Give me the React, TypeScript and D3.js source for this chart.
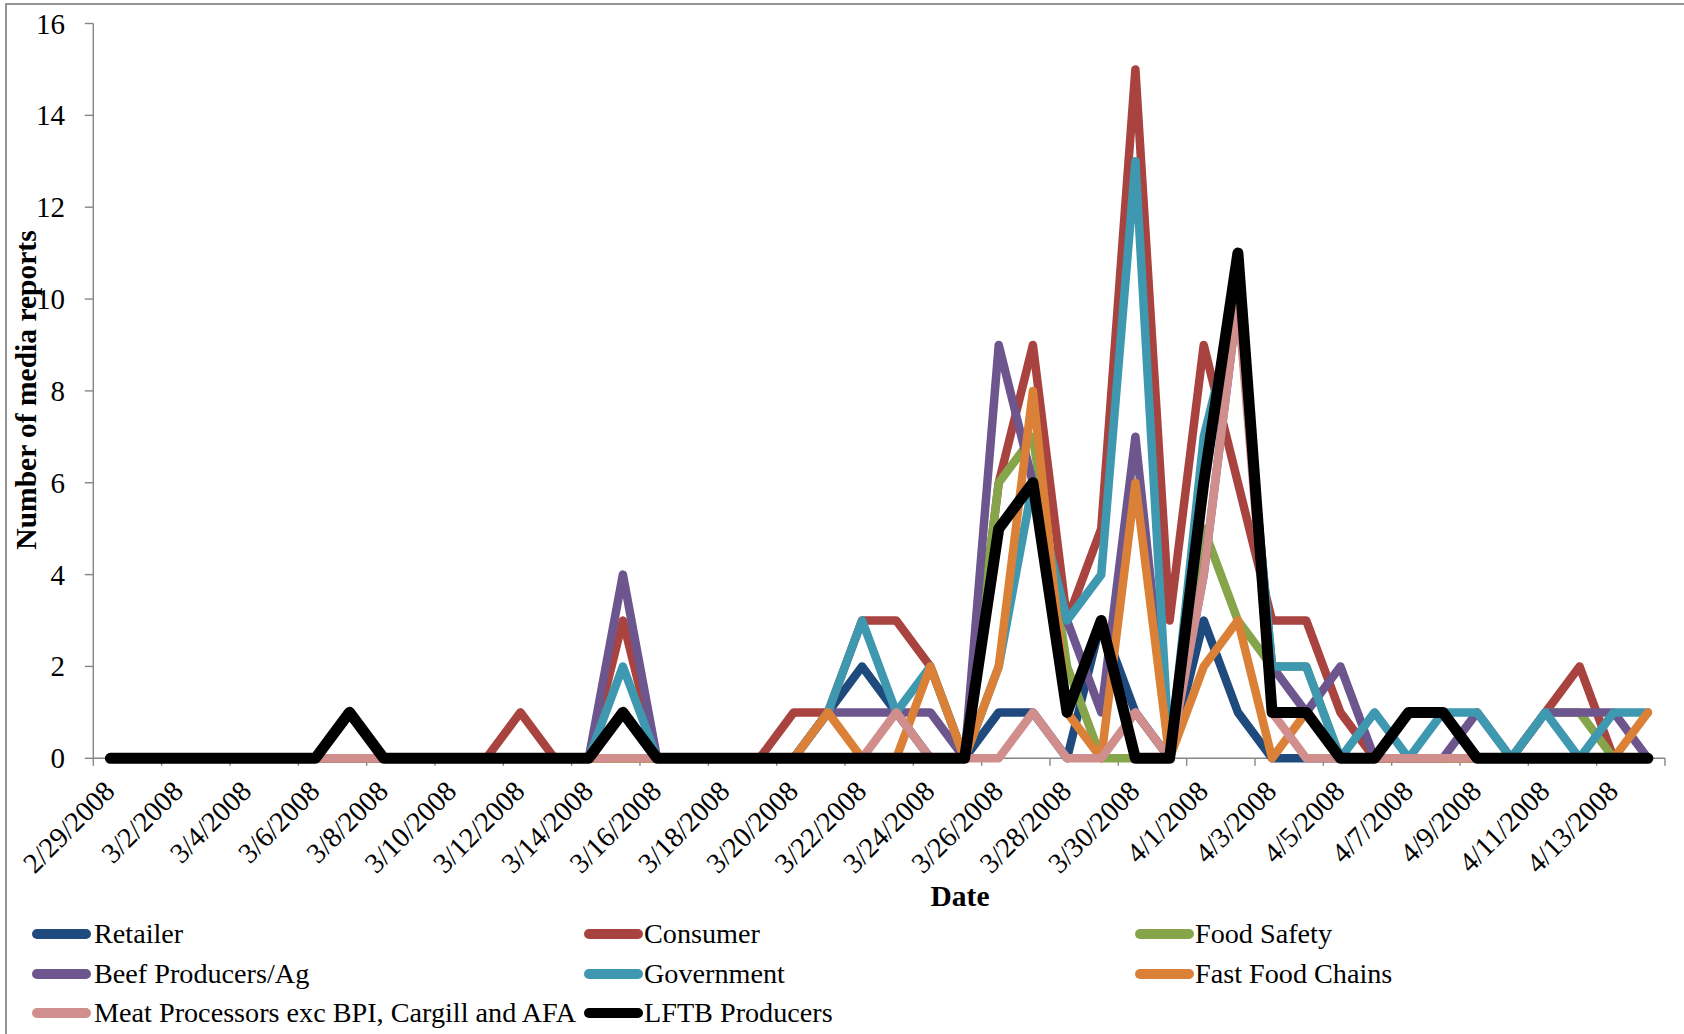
import React from 'react';
import * as d3 from 'd3';

const dates = [
  "2/29/2008","3/1/2008","3/2/2008","3/3/2008","3/4/2008","3/5/2008","3/6/2008","3/7/2008",
  "3/8/2008","3/9/2008","3/10/2008","3/11/2008","3/12/2008","3/13/2008","3/14/2008","3/15/2008",
  "3/16/2008","3/17/2008","3/18/2008","3/19/2008","3/20/2008","3/21/2008","3/22/2008","3/23/2008",
  "3/24/2008","3/25/2008","3/26/2008","3/27/2008","3/28/2008","3/29/2008","3/30/2008","3/31/2008",
  "4/1/2008","4/2/2008","4/3/2008","4/4/2008","4/5/2008","4/6/2008","4/7/2008","4/8/2008",
  "4/9/2008","4/10/2008","4/11/2008","4/12/2008","4/13/2008","4/14/2008"
];

const retailer   = [0,0,0,0,0,0,0,0,0,0,0,0,0,0,0,0,0,0,0,0,0,1,2,1,0,0,1,1,0,3,1,0,3,1,0,0,0,0,0,0,0,0,0,0,0,0];
const consumer   = [0,0,0,0,0,0,0,0,0,0,0,0,1,0,0,3,0,0,0,0,1,1,3,3,2,0,6,9,3,5,15,3,9,6,3,3,1,0,0,0,0,0,1,2,0,0];
const foodSafety = [0,0,0,0,0,0,0,0,0,0,0,0,0,0,0,0,0,0,0,0,0,0,0,0,0,0,6,7,2,0,0,0,5,3,2,2,0,0,0,0,0,0,1,1,0,0];
const beef       = [0,0,0,0,0,0,0,0,0,0,0,0,0,0,0,4,0,0,0,0,0,1,1,1,1,0,9,6,3,1,7,0,4,10,2,1,2,0,0,0,1,0,1,1,1,0];
const government = [0,0,0,0,0,0,0,0,0,0,0,0,0,0,0,2,0,0,0,0,0,1,3,1,2,0,2,6,3,4,13,0,7,10,2,2,0,1,0,1,1,0,1,0,1,1];
const fastFood   = [0,0,0,0,0,0,0,0,0,0,0,0,0,0,0,0,0,0,0,0,0,1,0,0,2,0,2,8,1,0,6,0,2,3,0,1,0,0,0,0,0,0,0,0,0,1];
const meatProc   = [0,0,0,0,0,0,0,0,0,0,0,0,0,0,0,0,0,0,0,0,0,0,0,1,0,0,0,1,0,0,1,0,4,10,1,0,0,0,0,0,0,0,0,0,0,0];
const lftb       = [0,0,0,0,0,0,0,1,0,0,0,0,0,0,0,1,0,0,0,0,0,0,0,0,0,0,5,6,1,3,0,0,6,11,1,1,0,0,1,1,0,0,0,0,0,0];

const seriesNames = [
  "Retailer", "Consumer", "Food Safety", "Beef Producers/Ag", "Government",
  "Fast Food Chains", "Meat Processors exc BPI, Cargill and AFA", "LFTB Producers"
];
const seriesValues = [retailer, consumer, foodSafety, beef, government, fastFood, meatProc, lftb];
const seriesColors = ["#1F4A7D", "#A8433F", "#86A54A", "#6D558E", "#3E98B0", "#DB8137", "#D08E8D", "#000000"];

const yTicks = [0, 2, 4, 6, 8, 10, 12, 14, 16];

const FONT = '"Liberation Serif", "Times New Roman", serif';

export default function App() {
  const W = 1684, H = 1034;
  const xLeft = 93.3, xRight = 1665, yTop = 23.5, yBot = 758.3;
  const x = d3.scaleBand<string>().domain(dates).range([xLeft, xRight]).padding(0);
  const bw = x.bandwidth();
  const y = d3.scaleLinear().domain([0, 16]).range([yBot, yTop]);
  const cx = (i: number) => (x(dates[i]) as number) + bw / 2;
  const line = d3.line<number>().x((_d, i) => cx(i)).y((d) => y(d));

  const axisColor = '#868686';
  const xTickIdx = d3.range(0, dates.length + 1, 2);
  const labelIdx = d3.range(0, dates.length, 2);

  const legendCols = [32, 584, 1135];
  const legendTextCols = [94, 644, 1195];
  const legendRows = [934, 974, 1013];

  return (
    <svg width={W} height={H} style={{ position: 'absolute', left: 0, top: 0, background: '#fff' }}
      fontFamily={FONT}>
      <rect x={0} y={0} width={W} height={H} fill="#fff" />
      <rect x={6} y={4} width={W + 20} height={H + 20} fill="none" stroke="#8a8a8a" strokeWidth={1.8} />

      <line x1={xLeft} x2={xLeft} y1={yTop} y2={yBot} stroke={axisColor} strokeWidth={1.4} />
      {yTicks.map((t) => (
        <g key={'yt' + t}>
          <line x1={xLeft - 8.5} x2={xLeft} y1={y(t)} y2={y(t)} stroke={axisColor} strokeWidth={1.4} />
          <text x={65} y={y(t) + 10} textAnchor="end" fontSize={29} fill="#000">{t}</text>
        </g>
      ))}

      <line x1={xLeft} x2={xRight} y1={yBot} y2={yBot} stroke={axisColor} strokeWidth={1.4} />
      {xTickIdx.map((k) => {
        const xx = k < dates.length ? (x(dates[k]) as number) : xRight;
        return <line key={'xt' + k} x1={xx} x2={xx} y1={yBot} y2={yBot + 7.5} stroke={axisColor} strokeWidth={1.4} />;
      })}
      {labelIdx.map((i) => {
        const ax = cx(i) + 6;
        const ay = 793;
        return (
          <text key={'xl' + i} x={ax} y={ay} textAnchor="end" fontSize={28.5}
            transform={`rotate(-45 ${ax} ${ay})`} fill="#000">{dates[i]}</text>
        );
      })}

      <text x={960} y={906} textAnchor="middle" fontSize={29.5} fontWeight="bold">Date</text>
      <text x={0} y={0} textAnchor="middle" fontSize={29.5} fontWeight="bold"
        transform={`translate(36 ${390}) rotate(-90)`}>Number of media reports</text>

      {seriesValues.map((vals, s) => (
        <path key={'s' + s} d={line(vals) as string} fill="none" stroke={seriesColors[s]}
          strokeWidth={s === 7 ? 11 : 8.5} strokeLinejoin="round" strokeLinecap="round" />
      ))}

      {seriesNames.map((name, s) => {
        const col = s % 3;
        const row = Math.floor(s / 3);
        const ly = legendRows[row];
        return (
          <g key={'lg' + s}>
            <line x1={legendCols[col] + 5} x2={legendCols[col] + 54} y1={ly} y2={ly}
              stroke={seriesColors[s]} strokeWidth={10} strokeLinecap="round" />
            <text x={legendTextCols[col]} y={ly + 9} fontSize={28.2} fill="#000">{name}</text>
          </g>
        );
      })}
    </svg>
  );
}
